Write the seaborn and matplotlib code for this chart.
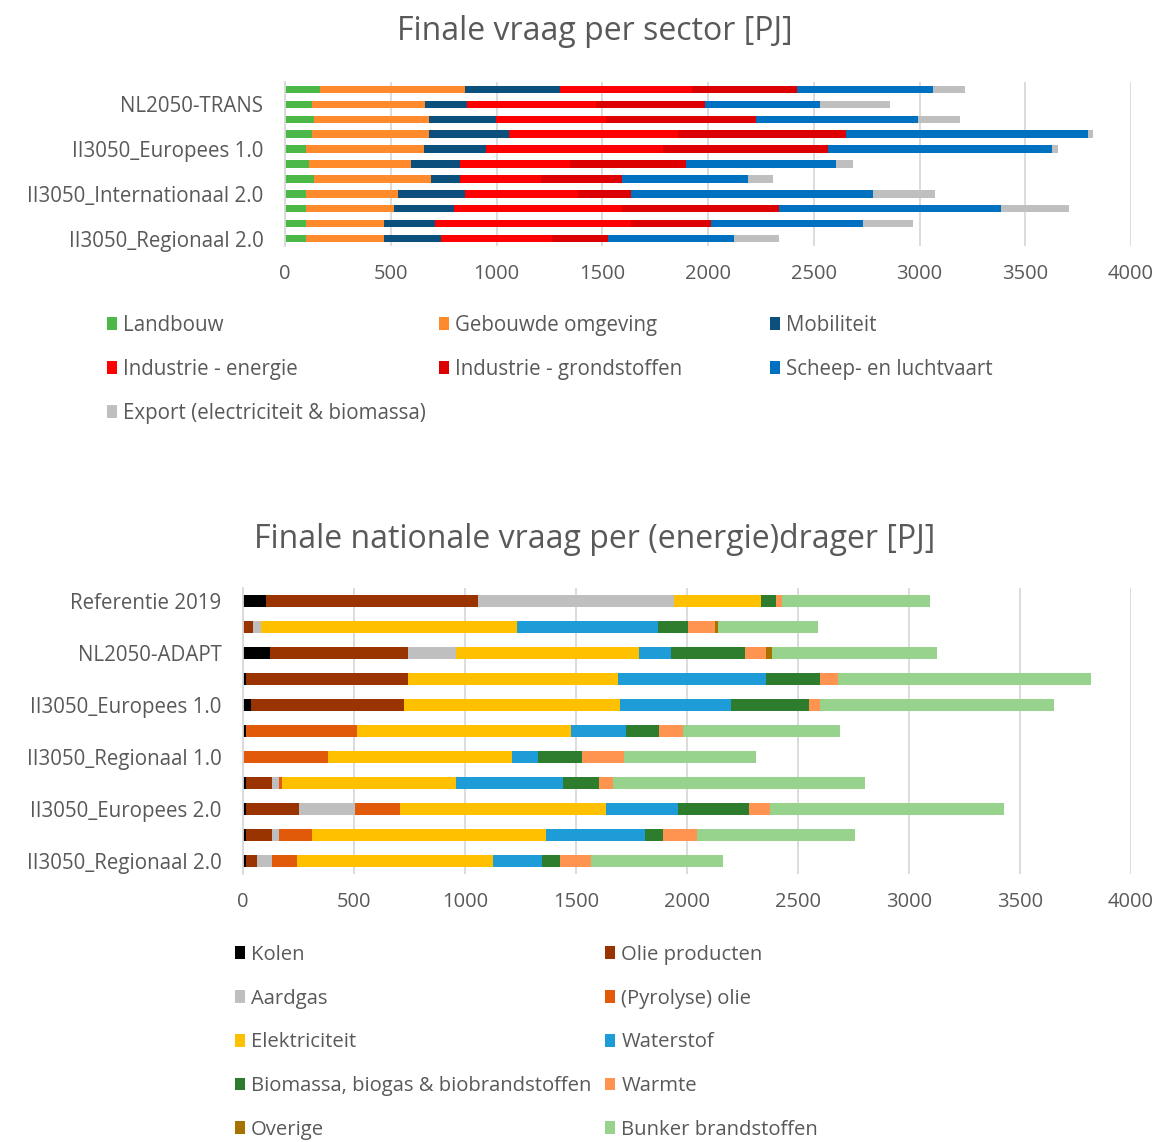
import numpy as np
import pandas as pd
import matplotlib
matplotlib.use("Agg")
import matplotlib.pyplot as plt
from matplotlib.patches import Patch
import seaborn as sns

sns.set_theme(style="white")
plt.rcParams['font.family'] = ['Open Sans', 'DejaVu Sans']

categories = ["Referentie 2019", "NL2050-TRANS", "NL2050-ADAPT",
              "II3050_Internationaal 1.0", "II3050_Europees 1.0",
              "II3050_Nationaal 1.0", "II3050_Regionaal 1.0",
              "II3050_Internationaal 2.0", "II3050_Europees 2.0",
              "II3050_Nationaal 2.0", "II3050_Regionaal 2.0"]

# Top chart: final demand per sector [PJ]
sector_names = ["Landbouw", "Gebouwde omgeving", "Mobiliteit",
                "Industrie - energie", "Industrie - grondstoffen",
                "Scheep- en luchtvaart", "Export (electriciteit & biomassa)"]
landbouw = [164, 127, 136, 127, 100, 115, 136, 100, 100, 100, 100]
gebouwde = [685, 537, 546, 555, 555, 481, 555, 433, 415, 369, 369]
mobiliteit = [452, 196, 314, 378, 296, 231, 136, 316, 285, 240, 267]
ind_energie = [623, 612, 522, 799, 834, 520, 382, 536, 792, 925, 528]
ind_grond = [496, 514, 709, 792, 783, 549, 383, 249, 744, 379, 262]
scheep = [646, 543, 764, 1145, 1059, 709, 598, 1146, 1051, 720, 598]
export = [147, 333, 202, 24, 27, 81, 116, 294, 322, 237, 212]
sector_colors = ["#4CB848", "#FF8A2B", "#0B4F7C", "#FF0000", "#DC0000",
                 "#0070C0", "#BFBFBF"]

# Bottom chart: final national demand per energy carrier [PJ]
carrier_names = ["Kolen", "Olie producten", "Aardgas", "(Pyrolyse) olie",
                 "Elektriciteit", "Waterstof",
                 "Biomassa, biogas & biobrandstoffen", "Warmte", "Overige",
                 "Bunker brandstoffen"]
kolen = [103, 0, 120, 14, 34, 14, 0, 14, 14, 14, 14]
olie = [955, 43, 621, 727, 689, 0, 0, 115, 237, 115, 51]
aardgas = [885, 39, 218, 0, 0, 0, 0, 34, 252, 34, 64]
pyrolyse = [0, 0, 0, 0, 0, 498, 383, 11, 203, 148, 113]
elektriciteit = [389, 1152, 826, 950, 975, 966, 830, 785, 931, 1052, 883]
waterstof = [0, 634, 144, 665, 499, 246, 115, 481, 323, 449, 220]
biomassa = [70, 136, 331, 245, 352, 149, 201, 162, 319, 80, 81]
warmte = [26, 123, 96, 81, 52, 108, 186, 64, 96, 151, 142]
overige = [0, 12, 28, 0, 0, 0, 0, 0, 0, 0, 0]
bunker = [665, 452, 744, 1138, 1052, 708, 596, 1135, 1051, 716, 594]
carrier_colors = ["#000000", "#993300", "#BFBFBF", "#E05A0A", "#FFC000",
                  "#1E9CD8", "#2E7D2E", "#FF9450", "#A67300", "#98D38D"]

x_ticks = [0, 500, 1000, 1500, 2000, 2500, 3000, 3500, 4000]

TXT = "#595959"
GRID = "#D9D9D9"
W, H = 1161, 1142
fig = plt.figure(figsize=(W / 100, H / 100), dpi=100)


def ax_rect(left, top, right, bottom):
    return [left / W, 1 - bottom / H, (right - left) / W, (bottom - top) / H]


def stacked(ax, series, colors, bar_w, label_every, label_offset):
    df = pd.DataFrame(np.array(series).T, index=categories)
    cum = df.cumsum(axis=1)
    for i in reversed(range(len(series))):
        sns.barplot(x=cum[i].values, y=categories, order=categories,
                    color=colors[i], saturation=1, width=bar_w, orient="h",
                    linewidth=0, errorbar=None, ax=ax)
    ax.set_xlim(0, 4000)
    ax.set_ylim(len(categories) - 0.5, -0.5)
    ax.set_xticks(x_ticks)
    ax.set_xticklabels([str(t) for t in x_ticks])
    ax.set_yticks(range(len(categories)))
    ax.set_yticklabels([c if (i % label_every == label_offset) else ""
                        for i, c in enumerate(categories)])
    ax.xaxis.grid(True, color=GRID, linewidth=1.3)
    ax.yaxis.grid(False)
    ax.set_axisbelow(True)
    for s in ["top", "right", "bottom"]:
        ax.spines[s].set_visible(False)
    ax.spines["left"].set_color(GRID)
    ax.spines["left"].set_linewidth(1.3)
    ax.tick_params(axis="both", length=0, colors=TXT)
    ax.tick_params(axis="x", pad=13, labelsize=14.5)
    ax.tick_params(axis="y", pad=15.5, labelsize=14.8)
    ax.set_xlabel("")
    ax.set_ylabel("")


# Top chart
ax1 = fig.add_axes(ax_rect(285, 82, 1131, 246))
stacked(ax1, [landbouw, gebouwde, mobiliteit, ind_energie, ind_grond,
              scheep, export], sector_colors, 0.5, 3, 1)
fig.text(595 / W, 1 - 31 / H, "Finale vraag per sector [PJ]",
         ha="center", va="center", fontsize=23, color=TXT)

# Bottom chart
ax2 = fig.add_axes(ax_rect(243, 588, 1131, 874))
stacked(ax2, [kolen, olie, aardgas, pyrolyse, elektriciteit, waterstof,
              biomassa, warmte, overige, bunker], carrier_colors, 0.47, 2, 0)
fig.text(595 / W, 1 - 539 / H, "Finale nationale vraag per (energie)drager [PJ]",
         ha="center", va="center", fontsize=23, color=TXT)


def legend_column(names, colors, x, y_top, spacing, size):
    handles = [Patch(facecolor=c, edgecolor="none", label=n)
               for n, c in zip(names, colors)]
    leg = fig.legend(handles=handles, loc="upper left",
                     bbox_to_anchor=(x / W, 1 - y_top / H),
                     frameon=False, fontsize=size, handlelength=0.5,
                     handleheight=0.6, handletextpad=0.3,
                     labelspacing=spacing, borderaxespad=0, borderpad=0)
    for t in leg.get_texts():
        t.set_color(TXT)


# Top legend (3 columns, row-wise order)
legend_column([sector_names[0], sector_names[3], sector_names[6]],
              [sector_colors[0], sector_colors[3], sector_colors[6]],
              107, 315, 1.11, 14.8)
legend_column([sector_names[1], sector_names[4]],
              [sector_colors[1], sector_colors[4]], 439, 315, 1.11, 14.8)
legend_column([sector_names[2], sector_names[5]],
              [sector_colors[2], sector_colors[5]], 770, 315, 1.11, 14.8)

# Bottom legend (2 columns)
legend_column(carrier_names[0::2], carrier_colors[0::2], 235, 945, 1.17, 14.6)
legend_column(carrier_names[1::2], carrier_colors[1::2], 605, 945, 1.17, 14.6)

fig.savefig("out.png", dpi=100, facecolor="white")
